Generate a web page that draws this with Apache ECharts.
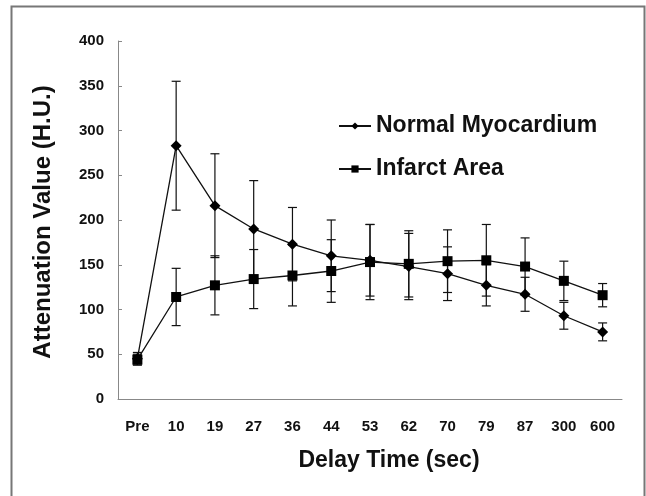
<!DOCTYPE html>
<html>
<head>
<meta charset="utf-8">
<script src="https://cdn.jsdelivr.net/npm/echarts@6/dist/echarts.min.js"></script>
<style>html,body{margin:0;padding:0;background:#fff;}#c{width:646px;height:496px;}</style>
</head>
<body>
<div id="c"></div>
<script>
const categories = ['Pre','10','19','27','36','44','53','62','70','79','87','300','600'];
const normalMean = [45, 283, 216, 190, 173, 160, 155, 148, 140, 127, 117, 93, 75];
const normalSD   = [7, 72, 58, 54, 41, 40, 40, 37, 30, 23, 19, 15, 10];
const infarctMean = [44, 114, 127, 134, 138, 143, 153, 151, 154, 155, 148, 132, 116];
const infarctSD   = [6, 32, 33, 33, 34, 35, 42, 37, 35, 40, 32, 22, 13];
const yTicks = {min: 0, max: 400, interval: 50};

const FONT = "'Liberation Sans', Arial, sans-serif";
const chart = echarts.init(document.getElementById('c'));

function errData(mean, sd) {
  return mean.map((m, i) => [i, m - sd[i], m + sd[i]]);
}
function errRender(params, api) {
  const i = api.value(0);
  const lo = api.coord([i, api.value(1)]);
  const hi = api.coord([i, api.value(2)]);
  const w = 4.5;
  const st = {stroke: '#111', lineWidth: 1.2};
  return {
    type: 'group',
    children: [
      {type: 'line', shape: {x1: lo[0], y1: lo[1], x2: hi[0], y2: hi[1]}, style: st},
      {type: 'line', shape: {x1: lo[0]-w, y1: lo[1], x2: lo[0]+w, y2: lo[1]}, style: st},
      {type: 'line', shape: {x1: hi[0]-w, y1: hi[1], x2: hi[0]+w, y2: hi[1]}, style: st}
    ]
  };
}

chart.setOption({
  animation: false,
  backgroundColor: '#fff',
  textStyle: {fontFamily: FONT},
  graphic: [{
    type: 'rect', left: 9, top: 4, z: -1,
    shape: {width: 633, height: 500},
    style: {fill: 'none', stroke: '#777', lineWidth: 2}
  }],
  legend: {
    orient: 'vertical',
    left: 333, top: 109,
    itemWidth: 32, itemHeight: 9,
    itemGap: 19,
    textStyle: {fontFamily: FONT, fontWeight: 'bold', fontSize: 23, color: '#111', lineHeight: 24},
    data: ['Normal Myocardium', 'Infarct Area']
  },
  grid: {left: 118, right: 24, top: 41, bottom: 97},
  xAxis: {
    type: 'category',
    data: categories,
    boundaryGap: true,
    axisLine: {lineStyle: {color: '#888', width: 1}},
    axisTick: {inside: true, length: 4, lineStyle: {color: '#888'}},
    axisLabel: {fontFamily: FONT, fontWeight: 'bold', fontSize: 15, color: '#111', margin: 20},
    name: 'Delay Time (sec)',
    nameLocation: 'middle',
    nameGap: 50,
    nameTextStyle: {fontFamily: FONT, fontWeight: 'bold', fontSize: 23, color: '#111', padding: [0, 0, 0, 38]}
  },
  yAxis: {
    type: 'value',
    min: yTicks.min, max: yTicks.max, interval: yTicks.interval,
    splitLine: {show: false},
    axisLine: {show: true, lineStyle: {color: '#888', width: 1}},
    axisTick: {show: true, inside: true, length: 4, lineStyle: {color: '#888'}},
    axisLabel: {fontFamily: FONT, fontWeight: 'bold', fontSize: 15, color: '#111', margin: 14},
    name: 'Attenuation Value (H.U.)',
    nameLocation: 'middle',
    nameGap: 63,
    nameTextStyle: {fontFamily: FONT, fontWeight: 'bold', fontSize: 24, color: '#111', padding: [0, 4, 0, 0]}
  },
  series: [
    {
      name: 'errN', type: 'custom', renderItem: errRender, data: errData(normalMean, normalSD),
      z: 1, silent: true, encode: {x: 0, y: [1, 2]}
    },
    {
      name: 'errI', type: 'custom', renderItem: errRender, data: errData(infarctMean, infarctSD),
      z: 1, silent: true, encode: {x: 0, y: [1, 2]}
    },
    {
      name: 'Normal Myocardium', type: 'line', data: normalMean,
      symbol: 'diamond', symbolSize: 11, z: 3,
      itemStyle: {color: '#000'}, lineStyle: {color: '#111', width: 1.3}
    },
    {
      name: 'Infarct Area', type: 'line', data: infarctMean,
      symbol: 'rect', symbolSize: 10, z: 3,
      itemStyle: {color: '#000'}, lineStyle: {color: '#111', width: 1.3}
    }
  ]
});
</script>
</body>
</html>
